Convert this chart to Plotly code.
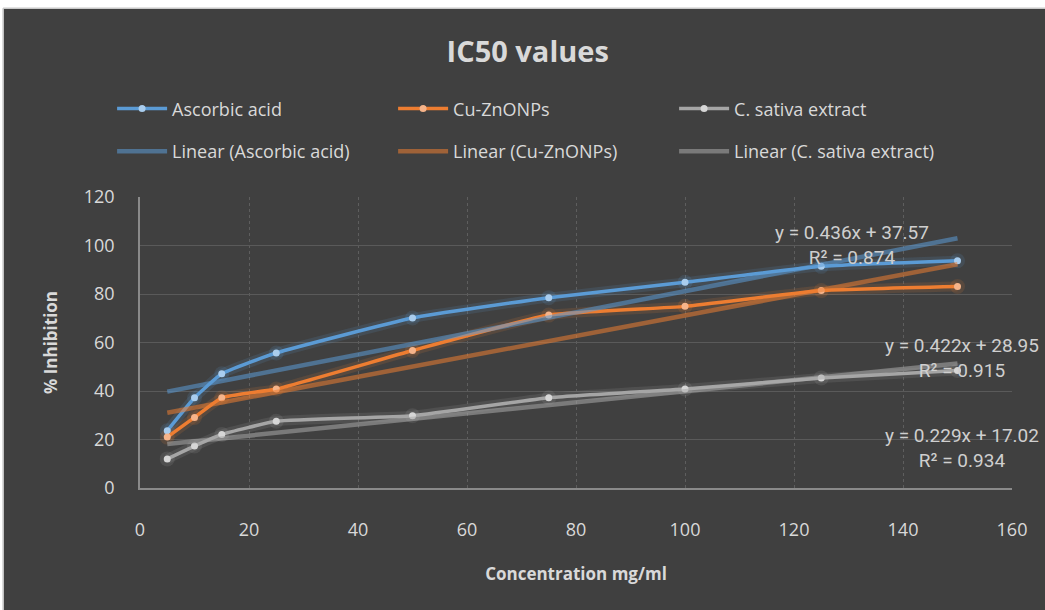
import plotly.graph_objects as go

# ---------------- data ----------------
concentration = [5, 10, 15, 25, 50, 75, 100, 125, 150]
ascorbic_acid = [23.6, 37.2, 47.1, 55.7, 70.1, 78.5, 84.8, 91.4, 93.7]
cu_znonps = [21.0, 29.1, 37.2, 40.8, 56.7, 71.3, 74.9, 81.4, 83.1]
c_sativa = [12.0, 17.3, 22.1, 27.5, 29.8, 37.2, 40.8, 45.4, 48.5]
series_names = ["Ascorbic acid", "Cu-ZnONPs", "C. sativa extract"]
trend_slopes = [0.436, 0.422, 0.229]
trend_intercepts = [37.57, 28.95, 17.02]
r_squared = [0.874, 0.915, 0.934]
x_ticks = [0, 20, 40, 60, 80, 100, 120, 140, 160]
y_ticks = [0, 20, 40, 60, 80, 100, 120]

# ---------------- style ----------------
line_colors = ["#5B9BD5", "#ED7D31", "#A5A5A5"]
marker_colors = ["#A9CDEE", "#F6B48A", "#D6D6D6"]
glow_colors = ["rgba(91,155,213,0.14)", "rgba(237,125,49,0.14)", "rgba(200,200,200,0.11)"]
trend_colors = ["rgba(91,155,213,0.55)", "rgba(237,125,49,0.55)", "rgba(170,170,170,0.55)"]
text_col = "#D9D9D9"
bg = "#404040"
font_main = "Open Sans"

fig = go.Figure()
values = [ascorbic_acid, cu_znonps, c_sativa]

# glow layers
for i, vals in enumerate(values):
    fig.add_trace(go.Scatter(
        x=concentration, y=vals, mode="lines+markers",
        line=dict(color=glow_colors[i], width=10, shape="spline", smoothing=0.4),
        marker=dict(size=15, color=glow_colors[i]),
        showlegend=False, hoverinfo="skip"))

# data series
for i, vals in enumerate(values):
    fig.add_trace(go.Scatter(
        x=concentration, y=vals, mode="lines+markers", name=series_names[i],
        line=dict(color=line_colors[i], width=3.5, shape="spline", smoothing=0.4),
        marker=dict(size=7, color=marker_colors[i]),
        legend="legend"))

# linear trend lines
x_lo, x_hi = min(concentration), max(concentration)
for i in range(3):
    fig.add_trace(go.Scatter(
        x=[x_lo, x_hi],
        y=[trend_slopes[i] * x_lo + trend_intercepts[i], trend_slopes[i] * x_hi + trend_intercepts[i]],
        mode="lines", name=f"Linear ({series_names[i]})",
        line=dict(color=trend_colors[i], width=4.5),
        legend="legend2"))

# equation labels
label_pos = [(130.6, 100.3), (150.8, 53.5), (150.8, 16.4)]
for i in range(3):
    fig.add_annotation(
        x=label_pos[i][0], y=label_pos[i][1], xref="x", yref="y",
        text=f"y = {trend_slopes[i]}x + {trend_intercepts[i]:.2f}<br>R² = {r_squared[i]}",
        showarrow=False, align="center", xanchor="center", yanchor="middle",
        font=dict(family="Roboto", size=19, color="#CFCFCF"))

# white border strips (top / left)
fig.add_shape(type="rect", xref="paper", yref="paper", x0=-0.2, x1=1.1, y0=1.649, y1=1.70,
              fillcolor="white", line=dict(width=0), layer="below")
fig.add_shape(type="line", xref="paper", yref="paper", x0=-0.157, x1=1.1, y0=1.649, y1=1.649,
              line=dict(color="#C8C8C8", width=1.5))
fig.add_shape(type="rect", xref="paper", yref="paper", x0=-0.2, x1=-0.1565, y0=-0.5, y1=1.70,
              fillcolor="white", line=dict(width=0), layer="below")
fig.add_shape(type="line", xref="paper", yref="paper", x0=-0.157, x1=-0.157, y0=-0.5, y1=1.649,
              line=dict(color="#C8C8C8", width=1.5))

legend_common = dict(orientation="h", xanchor="left", yanchor="middle",
                     font=dict(family=font_main, size=18, color=text_col),
                     bgcolor="rgba(0,0,0,0)", itemwidth=50,
                     entrywidth=216, entrywidthmode="pixels", tracegroupgap=0)

fig.update_layout(
    width=1045, height=610,
    paper_bgcolor=bg, plot_bgcolor=bg,
    margin=dict(l=140, r=33, t=197, b=122, autoexpand=False),
    title=dict(text="<b>IC50 values</b>", x=0.505, xanchor="center",
               y=1 - 52 / 610, yanchor="middle",
               font=dict(family=font_main, size=29, color=text_col)),
    legend=dict(x=-0.032, y=1.303, **legend_common),
    legend2=dict(x=-0.032, y=1.156, **legend_common),
    xaxis=dict(range=[0, 160], tickvals=x_ticks, showgrid=True, gridcolor="#5E5E5E",
               griddash="dot", gridwidth=1, zeroline=False, showline=True,
               linecolor="#8A8A8A", linewidth=1.5, ticks="", ticklabelstandoff=25,
               tickfont=dict(family=font_main, size=18, color=text_col),
               title=dict(text="<b>Concentration mg/ml</b>", standoff=28,
                          font=dict(family=font_main, size=17, color=text_col))),
    yaxis=dict(range=[0, 120], tickvals=y_ticks, showgrid=True, gridcolor="#5A5A5A",
               gridwidth=1.2, zeroline=False, showline=True,
               linecolor="#8A8A8A", linewidth=1.5, ticks="", ticklabelstandoff=20,
               tickfont=dict(family=font_main, size=18, color=text_col),
               title=dict(text="<b>% Inhibition</b>", standoff=22,
                          font=dict(family=font_main, size=17, color=text_col))),
)

fig.write_html("out.html", config={"displayModeBar": False},
               post_script="document.body.style.margin='0px';")
